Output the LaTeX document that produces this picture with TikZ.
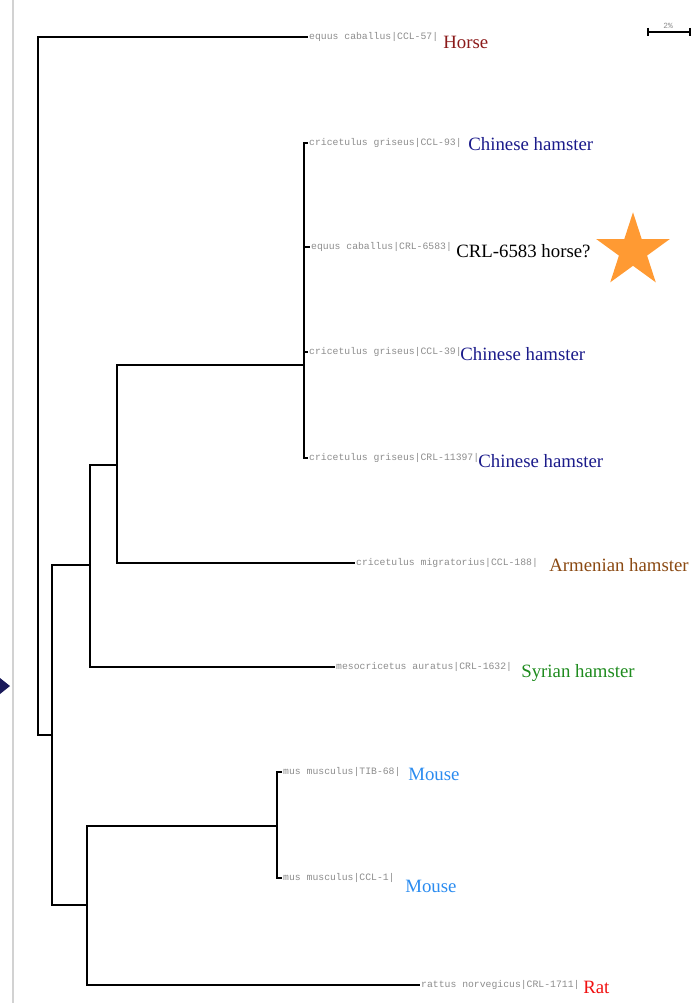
\documentclass[tikz,border=0pt]{standalone}
\usepackage{fontspec}
\setmainfont{Liberation Serif}
\newfontfamily\accfont{Liberation Mono}
\usetikzlibrary{shapes.geometric}
\definecolor{sp-horse}{HTML}{8B1A1A}
\definecolor{sp-chinese}{HTML}{1A1A8A}
\definecolor{sp-armenian}{HTML}{8B4A13}
\definecolor{sp-syrian}{HTML}{1E8B1E}
\definecolor{sp-mouse}{HTML}{2B8CF0}
\definecolor{sp-rat}{HTML}{F01010}
\definecolor{acc-gray}{HTML}{8C8C8C}
\definecolor{mark-orange}{HTML}{FF9A33}
\definecolor{side-navy}{HTML}{1A1A5A}

\begin{document}
\begin{tikzpicture}[x=0.02cm, y=-0.02cm,
    branch/.style={line width=0.8pt},
    acc/.style={anchor=west, inner sep=0.5pt, text=acc-gray, font=\accfont\fontsize{5.56}{6}\selectfont},
    common/.style={anchor=base west, inner sep=0pt, font=\fontsize{10.7}{12}\selectfont}]
    \useasboundingbox (0,0) rectangle (698,1003);
    % Side bar of the viewer
    \draw[gray!35, line width=1.2pt] (13,0) -- (13,1003);
    \fill[side-navy] (0,678) -- (10,686) -- (0,694) -- cycle;
    % Leaves (accession labels)
    \node[acc] (l-horse) at (308,37) {equus caballus|CCL-57|};
    \node[acc] (l-cg93) at (308,143) {cricetulus griseus|CCL-93|};
    \node[acc] (l-6583) at (310,247) {equus caballus|CRL-6583|};
    \node[acc] (l-cg39) at (308,352) {cricetulus griseus|CCL-39|};
    \node[acc] (l-cg11397) at (308,458) {cricetulus griseus|CRL-11397|};
    \node[acc] (l-cm) at (355,563) {cricetulus migratorius|CCL-188|};
    \node[acc] (l-ma) at (335,667) {mesocricetus auratus|CRL-1632|};
    \node[acc] (l-mm68) at (282,772) {mus musculus|TIB-68|};
    \node[acc] (l-mm1) at (282,878) {mus musculus|CCL-1|};
    \node[acc] (l-rn) at (420,985) {rattus norvegicus|CRL-1711|};
    % Internal nodes
    \coordinate (n-root) at (38,400);
    \coordinate (n-all) at (52,735);
    \coordinate (n-ham) at (90,565);
    \coordinate (n-crc) at (117,465);
    \coordinate (n-cg) at (304,365);
    \coordinate (n-mur) at (87,905);
    \coordinate (n-mus) at (277,826);
    % Branches
    \draw[branch] (n-root) |- (l-horse.west);
    \draw[branch] (n-root) |- (n-all);
    \draw[branch] (n-all) |- (n-ham);
    \draw[branch] (n-all) |- (n-mur);
    \draw[branch] (n-ham) |- (n-crc);
    \draw[branch] (n-ham) |- (l-ma.west);
    \draw[branch] (n-crc) |- (n-cg);
    \draw[branch] (n-crc) |- (l-cm.west);
    \foreach \leaf in {l-cg93,l-6583,l-cg39,l-cg11397}
        \draw[branch] (n-cg) |- (\leaf.west);
    \draw[branch] (n-mur) |- (n-mus);
    \draw[branch] (n-mur) |- (l-rn.west);
    \foreach \leaf in {l-mm68,l-mm1}
        \draw[branch] (n-mus) |- (\leaf.west);
    % Common names
    \node[common, text=sp-horse] (t-horse) at (443,49) {Horse};
    \node[common, text=sp-chinese] (t-cg93) at (468,151) {Chinese hamster};
    \node[common] (t-6583) at (456,257) {CRL-6583 horse?};
    \node[common, text=sp-chinese] (t-cg39) at (460,360) {Chinese hamster};
    \node[common, text=sp-chinese] (t-cg11397) at (478,467) {Chinese hamster};
    \node[common, text=sp-armenian] (t-cm) at (549,571) {Armenian hamster};
    \node[common, text=sp-syrian] (t-ma) at (521,677) {Syrian hamster};
    \node[common, text=sp-mouse] (t-mm68) at (408,780) {Mouse};
    \node[common, text=sp-mouse] (t-mm1) at (405,892) {Mouse};
    \node[common, text=sp-rat] (t-rn) at (583,993) {Rat};
    % Star on the questioned line
    \node[star, star points=5, star point ratio=2.618, fill=mark-orange, inner sep=0pt, minimum size=1.55cm] (mark6583) at (633,251) {};
    % Scale bar
    \draw[line width=0.9pt] (648,32) -- (690,32);
    \draw[line width=0.9pt] (648,28) -- (648,36);
    \draw[line width=0.9pt] (690,28) -- (690,36);
    \node[inner sep=0pt, text=acc-gray, font=\accfont\fontsize{4.5}{5}\selectfont] (sb-lab) at (668,26) {2\%};
\end{tikzpicture}
\end{document}
